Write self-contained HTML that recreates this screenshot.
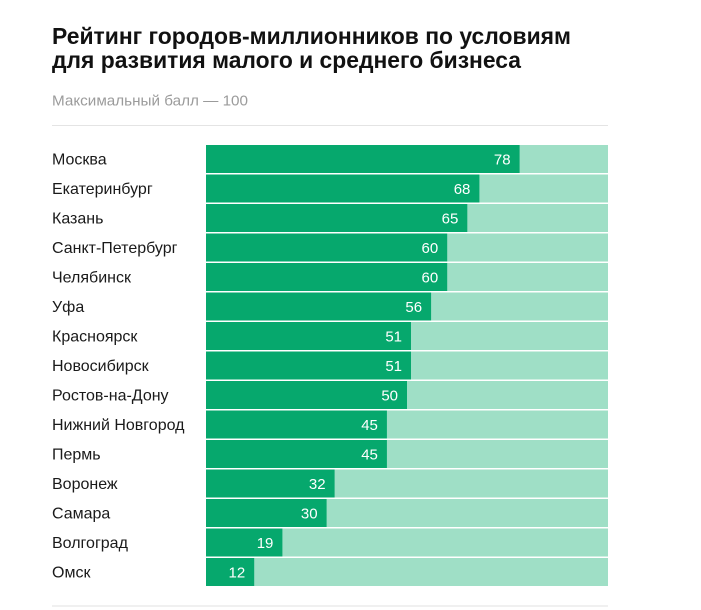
<!DOCTYPE html>
<html>
<head>
<meta charset="utf-8">
<style>
html,body{margin:0;padding:0;background:#fff;}
svg{display:block;}
text{font-family:"Liberation Sans","Noto Sans CJK SC",sans-serif;}
</style>
</head>
<body>
<svg width="701" height="610" viewBox="0 0 701 610" xmlns="http://www.w3.org/2000/svg">
<rect width="701" height="610" fill="#fff"/>
<text x="52" y="44" font-size="23.5" font-weight="bold" fill="#111" textLength="519" lengthAdjust="spacingAndGlyphs">Рейтинг городов-миллионников по условиям</text>
<text x="52" y="68" font-size="23.5" font-weight="bold" fill="#111" textLength="469" lengthAdjust="spacingAndGlyphs">для развития малого и среднего бизнеса</text>
<text x="52" y="105.5" font-size="15" fill="#9b9b9b" textLength="196" lengthAdjust="spacingAndGlyphs">Максимальный балл — 100</text>
<line x1="52" y1="125.5" x2="608" y2="125.5" stroke="#e4e4e4" stroke-width="1"/>
<g id="bars">
<rect x="206" y="145" width="402" height="28" fill="#9fdfc6"/><rect x="206" y="145" width="313.6" height="28" fill="#06a86d"/>
<rect x="206" y="174.5" width="402" height="28" fill="#9fdfc6"/><rect x="206" y="174.5" width="273.4" height="28" fill="#06a86d"/>
<rect x="206" y="204" width="402" height="28" fill="#9fdfc6"/><rect x="206" y="204" width="261.3" height="28" fill="#06a86d"/>
<rect x="206" y="233.5" width="402" height="28" fill="#9fdfc6"/><rect x="206" y="233.5" width="241.2" height="28" fill="#06a86d"/>
<rect x="206" y="263" width="402" height="28" fill="#9fdfc6"/><rect x="206" y="263" width="241.2" height="28" fill="#06a86d"/>
<rect x="206" y="292.5" width="402" height="28" fill="#9fdfc6"/><rect x="206" y="292.5" width="225.1" height="28" fill="#06a86d"/>
<rect x="206" y="322" width="402" height="28" fill="#9fdfc6"/><rect x="206" y="322" width="205" height="28" fill="#06a86d"/>
<rect x="206" y="351.5" width="402" height="28" fill="#9fdfc6"/><rect x="206" y="351.5" width="205" height="28" fill="#06a86d"/>
<rect x="206" y="381" width="402" height="28" fill="#9fdfc6"/><rect x="206" y="381" width="201" height="28" fill="#06a86d"/>
<rect x="206" y="410.5" width="402" height="28" fill="#9fdfc6"/><rect x="206" y="410.5" width="180.9" height="28" fill="#06a86d"/>
<rect x="206" y="440" width="402" height="28" fill="#9fdfc6"/><rect x="206" y="440" width="180.9" height="28" fill="#06a86d"/>
<rect x="206" y="469.5" width="402" height="28" fill="#9fdfc6"/><rect x="206" y="469.5" width="128.6" height="28" fill="#06a86d"/>
<rect x="206" y="499" width="402" height="28" fill="#9fdfc6"/><rect x="206" y="499" width="120.6" height="28" fill="#06a86d"/>
<rect x="206" y="528.5" width="402" height="28" fill="#9fdfc6"/><rect x="206" y="528.5" width="76.4" height="28" fill="#06a86d"/>
<rect x="206" y="558" width="402" height="28" fill="#9fdfc6"/><rect x="206" y="558" width="48.2" height="28" fill="#06a86d"/>
</g>
<g font-size="16" fill="#1a1a1a">
<text x="52" y="164.5">Москва</text>
<text x="52" y="194">Екатеринбург</text>
<text x="52" y="223.5">Казань</text>
<text x="52" y="253">Санкт-Петербург</text>
<text x="52" y="282.5">Челябинск</text>
<text x="52" y="312">Уфа</text>
<text x="52" y="341.5">Красноярск</text>
<text x="52" y="371">Новосибирск</text>
<text x="52" y="400.5">Ростов-на-Дону</text>
<text x="52" y="430">Нижний Новгород</text>
<text x="52" y="459.5">Пермь</text>
<text x="52" y="489">Воронеж</text>
<text x="52" y="518.5">Самара</text>
<text x="52" y="548">Волгоград</text>
<text x="52" y="577.5">Омск</text>
</g>
<g font-size="15" fill="#fff" text-anchor="end">
<text x="510.6" y="164.3">78</text>
<text x="470.4" y="193.8">68</text>
<text x="458.3" y="223.3">65</text>
<text x="438.2" y="252.8">60</text>
<text x="438.2" y="282.3">60</text>
<text x="422.1" y="311.8">56</text>
<text x="402" y="341.3">51</text>
<text x="402" y="370.8">51</text>
<text x="398" y="400.3">50</text>
<text x="377.9" y="429.8">45</text>
<text x="377.9" y="459.3">45</text>
<text x="325.6" y="488.8">32</text>
<text x="317.6" y="518.3">30</text>
<text x="273.4" y="547.8">19</text>
<text x="245.2" y="577.3">12</text>
</g>
<line x1="52" y1="606" x2="608" y2="606" stroke="#ebebeb" stroke-width="1.5"/>
</svg>
</body>
</html>
